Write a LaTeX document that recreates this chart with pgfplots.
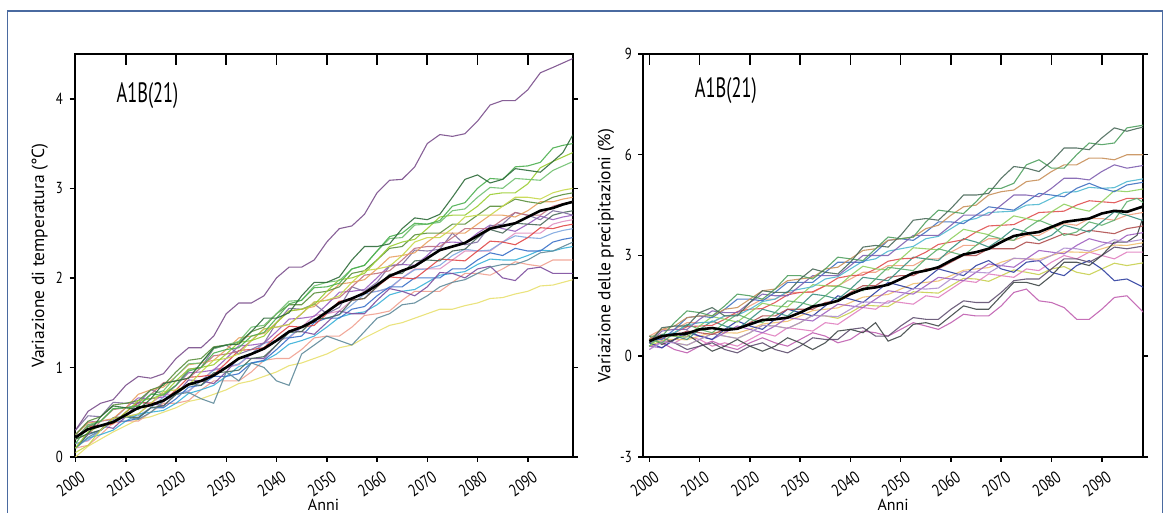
\documentclass[border=0pt]{standalone}
\usepackage{fontspec}
\setmainfont{PT Sans}[FakeStretch=0.8]
\newfontfamily\labfont{PT Sans}
\usepackage{pgfplots}
\usepackage{pgfplotstable}
\pgfplotsset{compat=1.18}

\definecolor{framecol}{HTML}{4A6AA0}
\definecolor{c1}{HTML}{7A4F8C}
\definecolor{c2}{HTML}{2E6B3A}
\definecolor{c3}{HTML}{4CAF50}
\definecolor{c4}{HTML}{9ACD32}
\definecolor{c5}{HTML}{C6D84A}
\definecolor{c6}{HTML}{5A8F3C}
\definecolor{c7}{HTML}{E8A060}
\definecolor{c8}{HTML}{C07080}
\definecolor{c9}{HTML}{8070A0}
\definecolor{c10}{HTML}{E04848}
\definecolor{c11}{HTML}{E090C0}
\definecolor{c12}{HTML}{3A70C8}
\definecolor{c13}{HTML}{38B0D8}
\definecolor{c14}{HTML}{5F8A9A}
\definecolor{c15}{HTML}{7D4E9E}
\definecolor{c16}{HTML}{E8E070}
\definecolor{c17}{HTML}{F0A090}
\definecolor{c18}{HTML}{4A6A5A}
\definecolor{c19}{HTML}{9A60C0}
\definecolor{c20}{HTML}{80A8E0}
\definecolor{c21}{HTML}{70C070}
\definecolor{p1}{HTML}{4A6A5A}
\definecolor{p2}{HTML}{50A060}
\definecolor{p3}{HTML}{C8905A}
\definecolor{p4}{HTML}{8060B0}
\definecolor{p5}{HTML}{4070C0}
\definecolor{p6}{HTML}{50B8D0}
\definecolor{p7}{HTML}{90D060}
\definecolor{p8}{HTML}{E05050}
\definecolor{p9}{HTML}{F0A080}
\definecolor{p10}{HTML}{3A9080}
\definecolor{p11}{HTML}{A060C0}
\definecolor{p12}{HTML}{F0C070}
\definecolor{p13}{HTML}{E080C0}
\definecolor{p14}{HTML}{C8D050}
\definecolor{p15}{HTML}{3040A0}
\definecolor{p16}{HTML}{C060B0}
\definecolor{p17}{HTML}{404848}
\definecolor{p18}{HTML}{605070}
\definecolor{p19}{HTML}{60B070}
\definecolor{p20}{HTML}{B05050}
\definecolor{p21}{HTML}{B090D0}

\pgfplotstableread{
name 2000 2002.5 2005 2007.5 2010 2012.5 2015 2017.5 2020 2022.5 2025 2027.5 2030 2032.5 2035 2037.5 2040 2042.5 2045 2047.5 2050 2052.5 2055 2057.5 2060 2062.5 2065 2067.5 2070 2072.5 2075 2077.5 2080 2082.5 2085 2087.5 2090 2092.5 2095 2097 2099
T1 0.30 0.51 0.60 0.64 0.80 0.90 0.88 0.93 1.10 1.22 1.22 1.35 1.60 1.72 1.72 1.80 2.00 2.12 2.12 2.20 2.40 2.55 2.58 2.71 2.95 3.09 3.10 3.24 3.50 3.60 3.58 3.61 3.75 3.93 3.98 3.98 4.10 4.29 4.35 4.40 4.45
T2 0.20 0.26 0.45 0.57 0.55 0.53 0.65 0.82 0.85 0.88 1.05 1.22 1.25 1.26 1.40 1.55 1.55 1.61 1.80 1.95 1.95 2.01 2.20 2.35 2.35 2.38 2.55 2.67 2.65 2.71 2.90 3.10 3.15 3.06 3.10 3.22 3.20 3.18 3.30 3.40 3.60
T3 0.15 0.34 0.40 0.54 0.55 0.57 0.70 0.69 0.80 0.96 1.00 1.16 1.20 1.22 1.35 1.39 1.55 1.71 1.75 1.89 1.90 1.94 2.10 2.14 2.30 2.46 2.50 2.61 2.60 2.64 2.80 2.84 3.00 3.11 3.10 3.24 3.25 3.29 3.45 3.48 3.50
T4 0.10 0.28 0.35 0.38 0.50 0.63 0.65 0.70 0.85 0.98 1.00 1.03 1.15 1.28 1.30 1.35 1.50 1.63 1.65 1.70 1.85 1.98 2.00 2.05 2.20 2.35 2.40 2.43 2.55 2.68 2.70 2.70 2.80 2.93 2.95 2.95 3.05 3.23 3.30 3.35 3.40
T5 0.05 0.13 0.30 0.43 0.45 0.48 0.60 0.73 0.75 0.80 0.95 1.08 1.10 1.15 1.30 1.43 1.45 1.48 1.60 1.73 1.75 1.80 1.95 2.08 2.10 2.13 2.25 2.40 2.45 2.45 2.55 2.68 2.70 2.70 2.80 2.90 2.90 2.88 2.95 2.98 3.00
T6 0.25 0.40 0.45 0.58 0.60 0.63 0.75 0.80 0.95 1.08 1.10 1.23 1.25 1.28 1.40 1.45 1.60 1.70 1.70 1.83 1.85 1.90 2.05 2.08 2.20 2.33 2.35 2.48 2.50 2.50 2.60 2.60 2.70 2.80 2.80 2.88 2.85 2.83 2.90 2.93 2.95
T7 0.25 0.38 0.40 0.43 0.55 0.70 0.75 0.78 0.90 1.03 1.05 1.08 1.20 1.33 1.35 1.38 1.50 1.63 1.65 1.68 1.80 1.93 1.95 1.98 2.10 2.23 2.25 2.28 2.40 2.50 2.50 2.50 2.60 2.70 2.70 2.68 2.75 2.85 2.85 2.88 2.90
T8 0.20 0.25 0.40 0.53 0.55 0.58 0.70 0.83 0.85 0.88 1.00 1.13 1.15 1.18 1.30 1.43 1.45 1.48 1.60 1.73 1.75 1.78 1.90 2.03 2.05 2.08 2.20 2.33 2.35 2.35 2.45 2.55 2.55 2.55 2.65 2.73 2.70 2.70 2.80 2.83 2.85
T9 0.30 0.46 0.45 0.61 0.60 0.60 0.75 0.70 0.80 0.98 1.00 1.21 1.25 1.15 1.20 1.27 1.50 1.66 1.65 1.71 1.60 1.67 1.90 1.85 1.95 2.13 2.15 2.31 2.30 2.32 2.50 2.37 2.40 2.58 2.60 2.73 2.70 2.65 2.75 2.73 2.70
T10 0.20 0.34 0.35 0.37 0.50 0.61 0.60 0.62 0.75 0.89 0.90 0.92 1.05 1.19 1.20 1.22 1.35 1.46 1.45 1.47 1.60 1.74 1.75 1.77 1.90 2.01 2.00 1.99 2.10 2.21 2.20 2.19 2.30 2.41 2.40 2.37 2.45 2.56 2.55 2.58 2.60
T11 0.15 0.18 0.30 0.43 0.45 0.48 0.60 0.70 0.70 0.73 0.85 0.98 1.00 1.03 1.15 1.28 1.30 1.33 1.45 1.58 1.60 1.63 1.75 1.85 1.85 1.88 2.00 2.10 2.10 2.10 2.20 2.30 2.30 2.30 2.40 2.50 2.50 2.50 2.60 2.63 2.65
T12 0.10 0.25 0.30 0.40 0.40 0.43 0.55 0.55 0.65 0.78 0.80 0.90 0.90 0.93 1.05 1.08 1.20 1.33 1.35 1.50 1.55 1.55 1.65 1.68 1.80 1.90 1.90 2.00 2.00 2.00 2.10 2.10 2.20 2.28 2.25 2.33 2.30 2.30 2.40 2.43 2.45
T13 0.10 0.21 0.25 0.30 0.40 0.48 0.50 0.52 0.60 0.71 0.75 0.80 0.90 1.01 1.05 1.07 1.15 1.26 1.30 1.35 1.45 1.56 1.60 1.62 1.70 1.81 1.85 1.87 1.95 2.03 2.05 2.07 2.15 2.21 2.20 2.20 2.25 2.31 2.30 2.33 2.35
T14 0.10 0.22 0.30 0.40 0.45 0.42 0.50 0.62 0.70 0.72 0.65 0.60 0.95 0.85 1.05 1.00 0.85 0.80 1.15 1.25 1.35 1.30 1.25 1.40 1.55 1.60 1.70 1.72 1.80 1.90 1.95 1.98 2.05 2.12 2.15 2.15 2.20 2.28 2.30 2.35 2.40
T15 0.20 0.36 0.35 0.32 0.45 0.61 0.60 0.57 0.70 0.86 0.85 0.82 0.95 1.11 1.10 1.10 1.25 1.41 1.40 1.37 1.50 1.63 1.60 1.60 1.75 1.88 1.85 1.80 1.90 2.06 2.05 2.00 2.10 2.13 2.00 1.97 2.10 2.12 2.05 2.05 2.05
T16 0.00 0.12 0.20 0.28 0.35 0.42 0.45 0.50 0.55 0.62 0.65 0.70 0.75 0.82 0.85 0.90 0.95 1.02 1.05 1.10 1.15 1.22 1.25 1.33 1.40 1.47 1.50 1.55 1.60 1.65 1.65 1.69 1.72 1.77 1.78 1.82 1.85 1.91 1.92 1.95 1.98
T17 0.10 0.13 0.25 0.38 0.40 0.40 0.50 0.60 0.60 0.63 0.75 0.85 0.85 0.85 0.95 1.08 1.10 1.10 1.20 1.33 1.35 1.35 1.45 1.58 1.60 1.63 1.75 1.85 1.85 1.85 1.95 2.05 2.05 2.03 2.10 2.18 2.15 2.13 2.20 2.20 2.20
T18 0.10 0.26 0.30 0.44 0.45 0.44 0.55 0.57 0.70 0.81 0.80 0.94 0.95 0.97 1.10 1.12 1.25 1.39 1.40 1.54 1.55 1.59 1.75 1.77 1.90 2.04 2.05 2.19 2.20 2.19 2.30 2.32 2.45 2.54 2.50 2.61 2.60 2.59 2.70 2.73 2.75
T19 0.25 0.39 0.40 0.42 0.55 0.66 0.65 0.67 0.80 0.94 0.95 0.97 1.10 1.24 1.25 1.27 1.40 1.54 1.55 1.57 1.70 1.84 1.85 1.87 2.00 2.14 2.15 2.14 2.25 2.39 2.40 2.39 2.50 2.59 2.55 2.52 2.60 2.69 2.65 2.68 2.70
T20 0.15 0.19 0.30 0.42 0.45 0.46 0.55 0.67 0.70 0.74 0.85 0.97 1.00 1.04 1.15 1.27 1.30 1.34 1.45 1.54 1.55 1.59 1.70 1.82 1.85 1.89 2.00 2.09 2.10 2.14 2.25 2.32 2.30 2.31 2.40 2.47 2.45 2.44 2.50 2.53 2.55
T21 0.20 0.36 0.40 0.54 0.55 0.57 0.70 0.74 0.90 1.04 1.05 1.21 1.25 1.29 1.45 1.47 1.60 1.74 1.75 1.91 1.95 1.97 2.10 2.14 2.30 2.44 2.45 2.59 2.60 2.62 2.75 2.77 2.90 3.01 3.00 3.11 3.10 3.09 3.20 3.25 3.30
Tm 0.22 0.31 0.35 0.39 0.47 0.55 0.58 0.63 0.72 0.81 0.85 0.91 1.00 1.10 1.15 1.21 1.30 1.40 1.45 1.52 1.62 1.72 1.77 1.83 1.92 2.02 2.08 2.13 2.22 2.31 2.35 2.39 2.47 2.55 2.58 2.61 2.68 2.75 2.78 2.82 2.85
}\Traw
\pgfplotstabletranspose[colnames from=name]\Ttab\Traw

\pgfplotstableread{
name 2000 2002.5 2005 2007.5 2010 2012.5 2015 2017.5 2020 2022.5 2025 2027.5 2030 2032.5 2035 2037.5 2040 2042.5 2045 2047.5 2050 2052.5 2055 2057.5 2060 2062.5 2065 2067.5 2070 2072.5 2075 2077.5 2080 2082.5 2085 2087.5 2090 2092.5 2095 2097 2099
P1 0.40 0.85 0.90 0.90 1.30 1.45 1.20 1.20 1.60 1.95 1.90 1.90 2.30 2.60 2.50 2.45 2.80 3.25 3.30 3.25 3.60 4.05 4.10 4.05 4.40 4.80 4.80 4.85 5.30 5.65 5.60 5.50 5.80 6.20 6.20 6.15 6.50 6.80 6.70 6.78 6.85
P2 0.60 0.60 1.00 1.35 1.30 1.20 1.50 1.85 1.80 1.70 2.00 2.40 2.40 2.30 2.60 2.95 2.90 2.85 3.20 3.55 3.50 3.55 4.00 4.35 4.30 4.25 4.60 5.00 5.00 5.15 5.70 5.85 5.60 5.60 6.00 6.35 6.30 6.35 6.80 6.85 6.90
P3 0.50 0.80 0.90 1.15 1.20 1.20 1.40 1.45 1.70 1.95 2.00 2.25 2.30 2.35 2.60 2.65 2.90 3.15 3.20 3.45 3.50 3.55 3.80 3.90 4.20 4.45 4.50 4.80 4.90 4.95 5.20 5.25 5.50 5.70 5.70 5.90 5.90 5.85 6.00 6.00 6.00
P4 0.40 0.75 0.80 0.80 1.10 1.35 1.30 1.30 1.60 1.85 1.80 1.80 2.10 2.40 2.40 2.40 2.70 3.00 3.00 3.00 3.30 3.60 3.60 3.60 3.90 4.20 4.20 4.20 4.50 4.80 4.80 4.75 5.00 5.30 5.30 5.25 5.50 5.70 5.60 5.65 5.70
P5 0.50 0.50 0.80 1.15 1.20 1.15 1.40 1.70 1.70 1.65 1.90 2.20 2.20 2.20 2.50 2.80 2.80 2.80 3.10 3.45 3.50 3.45 3.70 4.00 4.00 3.95 4.20 4.45 4.40 4.35 4.60 4.85 4.80 4.75 5.00 5.15 5.00 4.90 5.10 5.15 5.20
P6 0.40 0.63 0.70 0.93 1.00 1.02 1.20 1.22 1.40 1.63 1.70 1.93 2.00 2.07 2.30 2.37 2.60 2.83 2.90 3.13 3.20 3.27 3.50 3.57 3.80 4.03 4.10 4.28 4.30 4.32 4.50 4.52 4.70 4.88 4.90 5.03 5.00 5.02 5.20 5.25 5.30
P7 0.30 0.63 0.60 0.57 0.90 1.18 1.10 1.02 1.30 1.58 1.50 1.47 1.80 2.13 2.10 2.07 2.40 2.68 2.60 2.57 2.90 3.23 3.20 3.17 3.50 3.78 3.70 3.62 3.90 4.18 4.10 4.02 4.30 4.53 4.40 4.32 4.60 4.93 4.90 4.95 5.00
P8 0.50 0.52 0.70 0.88 0.90 0.92 1.10 1.33 1.40 1.42 1.60 1.83 1.90 1.92 2.10 2.33 2.40 2.42 2.60 2.83 2.90 2.92 3.10 3.33 3.40 3.47 3.70 3.88 3.90 3.92 4.10 4.28 4.30 4.32 4.50 4.63 4.60 4.57 4.70 4.70 4.70
P9 0.60 0.80 0.80 1.00 1.00 1.00 1.20 1.25 1.50 1.70 1.70 1.90 1.90 1.90 2.10 2.10 2.30 2.50 2.50 2.70 2.70 2.70 2.90 2.90 3.10 3.30 3.30 3.50 3.50 3.45 3.60 3.60 3.80 3.95 3.90 4.10 4.10 4.05 4.20 4.25 4.30
P10 0.30 0.65 0.60 0.50 0.80 1.05 0.90 0.80 1.10 1.40 1.30 1.20 1.50 1.85 1.80 1.70 2.00 2.35 2.30 2.25 2.60 2.95 2.90 2.85 3.20 3.50 3.40 3.25 3.50 3.80 3.70 3.45 3.60 3.90 3.80 3.70 4.00 4.30 4.20 4.10 4.00
P11 0.30 0.25 0.50 0.70 0.60 0.50 0.70 0.90 0.80 0.70 0.90 1.15 1.10 1.05 1.30 1.55 1.50 1.45 1.70 1.95 1.90 1.85 2.10 2.35 2.30 2.25 2.50 2.75 2.70 2.65 2.90 3.15 3.10 3.05 3.30 3.50 3.40 3.35 3.60 3.65 3.70
P12 0.40 0.51 0.50 0.49 0.60 0.71 0.70 0.69 0.80 0.96 1.00 1.04 1.20 1.36 1.40 1.44 1.60 1.76 1.80 1.84 2.00 2.16 2.20 2.24 2.40 2.56 2.60 2.64 2.80 2.91 2.90 2.89 3.00 3.11 3.10 3.09 3.20 3.31 3.30 3.35 3.40
P13 0.20 0.45 0.40 0.60 0.50 0.30 0.40 0.30 0.50 0.70 0.60 0.85 0.80 0.75 1.00 0.95 1.20 1.45 1.40 1.65 1.60 1.55 1.80 1.75 2.00 2.25 2.20 2.45 2.40 2.35 2.60 2.55 2.80 3.00 2.90 3.10 3.00 2.90 3.10 3.10 3.10
P14 0.30 0.47 0.40 0.33 0.50 0.67 0.60 0.53 0.70 0.92 0.90 0.83 1.00 1.22 1.20 1.13 1.30 1.52 1.50 1.48 1.70 1.92 1.90 1.88 2.10 2.32 2.30 2.23 2.40 2.57 2.50 2.43 2.60 2.67 2.50 2.43 2.60 2.77 2.70 2.75 2.80
P15 0.40 0.25 0.50 0.75 0.60 0.50 0.80 1.05 0.90 0.80 1.10 1.40 1.30 1.20 1.50 1.80 1.70 1.60 1.90 2.20 2.10 2.00 2.30 2.60 2.50 2.40 2.70 2.85 2.60 2.50 2.80 2.85 2.50 2.40 2.70 2.85 2.60 2.25 2.30 2.15 2.00
P16 0.30 0.40 0.20 0.10 0.30 0.45 0.30 0.20 0.40 0.55 0.40 0.30 0.50 0.70 0.60 0.40 0.50 0.75 0.70 0.60 0.80 1.00 0.90 0.80 1.00 1.25 1.20 1.20 1.50 1.90 2.00 1.65 1.60 1.45 1.10 1.10 1.40 1.75 1.80 1.50 1.20
P17 0.60 0.35 0.50 0.65 0.40 0.15 0.30 0.50 0.30 0.15 0.30 0.55 0.40 0.20 0.40 0.75 0.80 0.70 1.00 0.45 0.60 0.95 1.00 0.90 1.20 1.50 1.40 1.40 1.80 2.20 2.20 2.10 2.40 2.80 2.80 2.70 3.00 3.40 3.40 3.60 4.50
P18 0.40 0.55 0.40 0.20 0.30 0.40 0.20 0.10 0.30 0.40 0.20 0.10 0.30 0.55 0.50 0.50 0.80 0.85 0.60 0.60 0.90 1.15 1.10 1.10 1.40 1.65 1.60 1.60 1.90 2.25 2.30 2.30 2.60 2.90 2.90 2.80 3.00 3.25 3.20 3.25 3.30
P19 0.50 0.40 0.70 0.95 0.80 0.70 1.00 1.25 1.10 1.00 1.30 1.65 1.60 1.50 1.80 2.10 2.00 1.95 2.30 2.65 2.60 2.55 2.90 3.20 3.10 3.00 3.30 3.60 3.50 3.45 3.80 4.05 3.90 3.60 3.70 4.00 3.90 4.05 4.60 4.70 4.50
P20 0.50 0.65 0.60 0.75 0.70 0.65 0.80 0.80 1.00 1.20 1.20 1.40 1.40 1.40 1.60 1.65 1.90 2.10 2.10 2.35 2.40 2.40 2.60 2.60 2.80 3.00 3.00 3.20 3.20 3.20 3.40 3.35 3.50 3.65 3.60 3.75 3.70 3.65 3.80 3.85 3.90
P21 0.20 0.42 0.40 0.33 0.50 0.67 0.60 0.53 0.70 0.92 0.90 0.83 1.00 1.22 1.20 1.18 1.40 1.62 1.60 1.58 1.80 2.02 2.00 2.03 2.30 2.52 2.50 2.48 2.70 2.92 2.90 2.83 3.00 3.22 3.20 3.13 3.30 3.47 3.40 3.45 3.50
Pm 0.45 0.60 0.65 0.68 0.80 0.84 0.78 0.82 0.95 1.08 1.10 1.15 1.30 1.48 1.55 1.65 1.85 2.00 2.05 2.13 2.30 2.48 2.55 2.65 2.85 3.03 3.10 3.20 3.40 3.58 3.65 3.70 3.85 4.00 4.05 4.10 4.25 4.33 4.30 4.40 4.50
}\Praw
\pgfplotstabletranspose[colnames from=name]\Ptab\Praw

\pgfplotsset{
  myax/.style={
    scale only axis, anchor=south west, height=403pt,
    xtick={2000,2010,...,2090},
    tick align=outside, xtick pos=left, ytick pos=both,
    axis line style={line width=2pt},
    tick style={black, line width=1.5pt},
    major tick length=5pt,
    /pgf/number format/assume math mode=true,
    /pgf/number format/1000 sep={},
    xticklabel style={font=\fontsize{17}{17}\selectfont, rotate=35, anchor=east, xshift=2pt, yshift=-15pt},
    yticklabel style={font=\fontsize{16}{16}\selectfont, xshift=-3pt},
    label style={font=\labfont\fontsize{17.5}{17.5}\selectfont},
    xlabel={Anni},
    xlabel style={font=\labfont\fontsize{16}{16}\selectfont, at={(axis description cs:0.5,-0.119)}, anchor=center},
    every axis plot/.append style={line width=1.1pt, no markers, opacity=0.9},
  },
}

\begin{document}
\begin{tikzpicture}
\path[use as bounding box] (0,0) rectangle (1168pt,513pt);
\draw[framecol, line width=1.5pt] (7.3pt,-2pt) -- (7.3pt,502pt) -- (1162.7pt,502pt) -- (1162.7pt,-2pt);

\begin{axis}[myax, at={(74.5pt,56pt)}, width=498pt,
  xmin=1999.8, xmax=2098.9, ymin=0, ymax=4.5, ytick={0,1,2,3,4},
  ylabel={Variazione di temperatura (°C)},
  ylabel style={at={(axis description cs:-0.0694,0.5)}, anchor=center}]
\addplot[c16] table[x=colnames, y=T16] {\Ttab};
\addplot[c17] table[x=colnames, y=T17] {\Ttab};
\addplot[c11] table[x=colnames, y=T11] {\Ttab};
\addplot[c20] table[x=colnames, y=T20] {\Ttab};
\addplot[c13] table[x=colnames, y=T13] {\Ttab};
\addplot[c12] table[x=colnames, y=T12] {\Ttab};
\addplot[c15] table[x=colnames, y=T15] {\Ttab};
\addplot[c14] table[x=colnames, y=T14] {\Ttab};
\addplot[c10] table[x=colnames, y=T10] {\Ttab};
\addplot[c19] table[x=colnames, y=T19] {\Ttab};
\addplot[c18] table[x=colnames, y=T18] {\Ttab};
\addplot[c9] table[x=colnames, y=T9] {\Ttab};
\addplot[c8] table[x=colnames, y=T8] {\Ttab};
\addplot[c7] table[x=colnames, y=T7] {\Ttab};
\addplot[c6] table[x=colnames, y=T6] {\Ttab};
\addplot[c5] table[x=colnames, y=T5] {\Ttab};
\addplot[c4] table[x=colnames, y=T4] {\Ttab};
\addplot[c21] table[x=colnames, y=T21] {\Ttab};
\addplot[c3] table[x=colnames, y=T3] {\Ttab};
\addplot[c2] table[x=colnames, y=T2] {\Ttab};
\addplot[c1] table[x=colnames, y=T1] {\Ttab};
\addplot[black, line width=2.6pt, opacity=1] table[x=colnames, y=Tm] {\Ttab};
\node[anchor=west, font=\fontsize{28}{28}\selectfont, xscale=0.82] at (axis cs:2007.6,4.04) {A1B(21)};
\end{axis}

\begin{axis}[myax, at={(643.3pt,56pt)}, width=499.7pt,
  xmin=1998.8, xmax=2098.2, ymin=-3, ymax=9, ytick={-3,0,3,6,9},
  ylabel={Variazione delle precipitazioni (\%)},
  ylabel style={at={(axis description cs:-0.0745,0.5)}, anchor=center}]
\addplot[p16] table[x=colnames, y=P16] {\Ptab};
\addplot[p14] table[x=colnames, y=P14] {\Ptab};
\addplot[p13] table[x=colnames, y=P13] {\Ptab};
\addplot[p12] table[x=colnames, y=P12] {\Ptab};
\addplot[p11] table[x=colnames, y=P11] {\Ptab};
\addplot[p15] table[x=colnames, y=P15] {\Ptab};
\addplot[p18] table[x=colnames, y=P18] {\Ptab};
\addplot[p17] table[x=colnames, y=P17] {\Ptab};
\addplot[p21] table[x=colnames, y=P21] {\Ptab};
\addplot[p20] table[x=colnames, y=P20] {\Ptab};
\addplot[p9] table[x=colnames, y=P9] {\Ptab};
\addplot[p10] table[x=colnames, y=P10] {\Ptab};
\addplot[p8] table[x=colnames, y=P8] {\Ptab};
\addplot[p7] table[x=colnames, y=P7] {\Ptab};
\addplot[p19] table[x=colnames, y=P19] {\Ptab};
\addplot[p6] table[x=colnames, y=P6] {\Ptab};
\addplot[p5] table[x=colnames, y=P5] {\Ptab};
\addplot[p4] table[x=colnames, y=P4] {\Ptab};
\addplot[p3] table[x=colnames, y=P3] {\Ptab};
\addplot[p2] table[x=colnames, y=P2] {\Ptab};
\addplot[p1] table[x=colnames, y=P1] {\Ptab};
\addplot[black, line width=2.6pt, opacity=1] table[x=colnames, y=Pm] {\Ptab};
\node[anchor=west, font=\fontsize{28}{28}\selectfont, xscale=0.82] at (axis cs:2008.5,7.9) {A1B(21)};
\end{axis}

% inward tick marks on the top edges of both panels (axis top at 459pt)
\foreach \yr in {2000,2010,...,2090}{
  \pgfmathsetmacro{\xl}{74.5+(\yr-1999.8)/99.1*498}
  \pgfmathsetmacro{\xr}{643.3+(\yr-1998.8)/99.4*499.7}
  \draw[black, line width=1.6pt] (\xl pt,459pt) -- (\xl pt,448pt);
  \draw[black, line width=1.6pt] (\xr pt,459pt) -- (\xr pt,448pt);
}
\end{tikzpicture}
\end{document}
